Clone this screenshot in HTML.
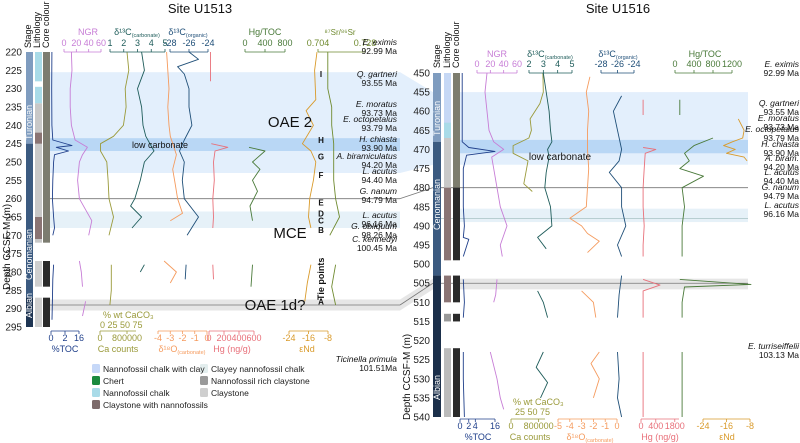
<!DOCTYPE html>
<html><head><meta charset="utf-8"><style>
html,body{margin:0;padding:0;background:#fff}
svg{display:block;font-family:"Liberation Sans",sans-serif}
</style></head><body>
<svg id="fig" width="800" height="443" viewBox="0 0 800 443">
<g id="bands"></g>
<g id="cols"></g>
<g id="series"></g>
<g id="axes"></g>
<g id="labels"></g>
</svg>
<script>
// ---- Left panel (Site U1513) data ----
const L_toc_d=[220,230,240,244,245.5,246,247,248,250,255,260,265,268,270,NaN,278,282,288,293];
const L_toc_v=[0.5,0.4,0.5,1,12,3,10,2,1.5,1,0.8,1.5,2,1,NaN,1.5,1,0.8,0.6];
const L_ngr_d=[220,225,230,235,240,244,246,248,250,255,260,263,266,270,NaN,277,280,284,NaN,288,292];
const L_ngr_v=[12,13,10,10,12,18,38,30,25,22,25,35,45,40,NaN,25,28,30,NaN,35,30];
const L_ca_d=[220,225,230,235,240,243,245,247,250,255,260,265,270,NaN,278,285,289];
const L_ca_v=[600000,640000,560000,580000,520000,300000,10000,10000,150000,180000,200000,300000,200000,NaN,250000,250000,220000];
const L_c13_d=[220,225,230,235,240,243,247,250,255,260,262,265,268,NaN,278,280];
const L_c13_v=[3.3,3.5,3,3.3,3.4,3.6,4.2,3.5,3.2,2.8,2.5,3.3,2.6,NaN,3.5,3.2];
const L_org_d=[220,222,224,226,230,235,240,244,247,250,255,260,265,270,NaN,278,282];
const L_org_v=[-26,-25,-27.2,-26.5,-26,-26,-25.7,-26.5,-27,-26.5,-26.7,-26.5,-25,-26.2,NaN,-26.3,-26.4];
const L_o18_d=[220,225,230,235,240,243,248,252,256,260,264,266,NaN,277,280,283];
const L_o18_v=[-3.3,-3.2,-3.1,-3.2,-3.1,-3,-2.5,-2.8,-2.6,-2.4,-2,-3,NaN,-3.5,-2.5,-3];
const L_hg_d=[220,228,NaN,245,246,247,250,255,260,265,268,NaN,278,282];
const L_hg_v=[20,20,NaN,30,250,80,60,70,50,60,50,NaN,50,60];
const L_hgt_d=[246,247,250,252,255,258,262,266,NaN,278,284];
const L_hgt_v=[80,400,150,300,150,250,100,150,NaN,150,120];
const L_nd_d=[220,225,233,236,240,245,247,250,255,260,265,268,NaN,278,283,288];
const L_nd_v=[-12.5,-13.5,-13,-17,-14,-18.5,-15,-13,-14,-15.5,-16,-15,NaN,-15,-16.5,-17.5];
const L_sr_d=[220,230,235,240,245,250,255,260,265,270,NaN,278,284,289];
const L_sr_v=[0.709,0.709,0.711,0.711,0.712,0.712,0.712,0.713,0.715,0.710,NaN,0.713,0.711,0.713];
// ---- Right panel (Site U1516) data ----
const R_toc_d=[450,460,468,469.5,470.5,471.5,475,480,485,490,493,493.5,498,NaN,504,510,514,NaN,523,530,540];
const R_toc_v=[1,1,1,4,16,3,1.5,1.5,1.5,2,1.5,4,1.5,NaN,1.5,2,1.5,NaN,1.5,1.5,2];
const R_ngr_d=[450,455,460,465,468,470,472,475,480,485,490,495,498,NaN,504,508,510,NaN,523,530,535,538];
const R_ngr_v=[15,12,15,18,25,40,22,25,30,35,45,35,38,NaN,30,28,25,NaN,20,30,35,40];
const R_ca_d=[450,455,458,462,465,467,469,471,473,476,479,481];
const R_ca_v=[750000,760000,680000,450000,480000,420000,50000,50000,400000,350000,300000,500000];
const R_c13_d=[450,455,460,465,468,470,472,476,480,485,490,493,496,NaN,507,510,514,NaN,523,527,531,535];
const R_c13_v=[3,3.2,3.4,3.5,3.6,3.3,3.4,3.2,3.1,3.5,3.6,2.6,3.2,NaN,2.6,3.0,3.3,NaN,3.0,2.5,3.3,2.8];
const R_o18_d=[451,455,460,465,470,475,480,485,488,490,492,494,497,NaN,507,510,514,NaN,523,526,530,535];
const R_o18_v=[-2.3,-2.6,-2.4,-2.5,-2.5,-2.4,-2.5,-2.6,-4,-3,-2.5,-1.5,-2.5,NaN,-3,-2,-1.8,NaN,-1.5,-2.2,-1.5,-2];
const R_org_d=[456,460,465,470,473,476,480,485,490,495,498,NaN,503,508,514,NaN,523,530,535,540];
const R_org_v=[-25.5,-26.5,-26,-25.5,-25.8,-27,-25.5,-25.5,-25,-26,-25.5,NaN,-25.5,-25.8,-26,NaN,-26,-25.8,-26,-25.5];
const R_hg_d=[457,461,NaN,469.5,470,471,475,480,485,490,495,498,NaN,504,505.5,507,510,514,NaN,523,530,540];
const R_hg_v=[100,100,NaN,100,700,200,150,100,100,150,100,100,NaN,100,900,100,100,100,NaN,100,100,100];
const R_hgt_d=[457,461,NaN,467,469,471,473,475,477,480,485,490,495,498,NaN,504,505.3,506,510,514,NaN,523,530,540];
const R_hgt_v=[100,100,NaN,800,400,200,300,100,600,150,200,150,150,150,NaN,100,1600,200,150,150,NaN,150,150,150];
const R_nd_d=[462,465,467,468,469,470,471,472,473];
const R_nd_v=[-12,-10,-10.5,-14,-17,-13,-16,-10,-9];
// tick labels
const L_depthTicks=[220,225,230,235,240,245,250,255,260,265,270,275,280,285,290,295];
const R_depthTicks=[450,455,460,465,470,475,480,485,490,495,500,505,510,515,520,525,530,535,540];

const NS="http://www.w3.org/2000/svg";
function el(parent,tag,attrs,text){const e=document.createElementNS(NS,tag);for(const k in attrs)e.setAttribute(k,attrs[k]);if(text!==undefined)e.textContent=text;parent.appendChild(e);return e;}
const lin=(d0,d1,r0,r1)=>v=>r0+(v-d0)/(d1-d0)*(r1-r0);
const yL=lin(220,295,52,327), yR=lin(450,540,73,417);
const G={bands:document.getElementById('bands'),cols:document.getElementById('cols'),series:document.getElementById('series'),axes:document.getElementById('axes'),labels:document.getElementById('labels')};

function band(x0,x1,y0,y1,fill,name){const r=el(G.bands,'rect',{x:x0,y:y0,width:x1-x0,height:y1-y0,fill:fill});

}
function poly(pts,fill,name){const p=el(G.bands,'polygon',{points:pts,fill:fill});

}
band(50,400,yL(225.5),yL(253),'#e3effc','oae2-band-left');
band(50,400,yL(243.5),yL(247),'#b9d7f5','low-carbonate-band-left');
band(50,400,yL(263.5),yL(268),'#e6f1f8','mce-band-left');
band(50,400,yL(287.5),yL(290.5),'#e6e6e6','oae1d-band-left');
band(460,748,yR(455),yR(474),'#e3effc','oae2-band-right');
band(460,748,yR(467.5),yR(471),'#b9d7f5','low-carbonate-band-right');
band(460,748,yR(485.5),yR(489),'#e6f1f8','mce-band-right');
band(460,748,yR(503.8),yR(506.6),'#e6e6e6','oae1d-band-right');
poly(`400,${yL(225.5)} 433,${yR(455)} 433,${yR(474)} 400,${yL(253)}`,'#e3effc','oae2-connector');
poly(`400,${yL(287.5)} 433,${yR(503.8)} 433,${yR(506.6)} 400,${yL(290.5)}`,'#e6e6e6','oae1d-connector');
el(G.bands,'line',{x1:50,x2:400,y1:yL(260),y2:yL(260),stroke:'#777','stroke-width':0.8});
el(G.bands,'line',{x1:50,x2:400,y1:yL(289),y2:yL(289),stroke:'#777','stroke-width':0.8});
el(G.bands,'line',{x1:400,x2:433,y1:yL(289),y2:yR(505),stroke:'#777','stroke-width':0.8});
el(G.bands,'line',{x1:400,x2:433,y1:yL(260),y2:yR(480),stroke:'#777','stroke-width':0.8});
el(G.bands,'line',{x1:433,x2:748,y1:yR(480),y2:yR(480),stroke:'#777','stroke-width':0.8});
el(G.bands,'line',{x1:433,x2:748,y1:yR(505),y2:yR(505),stroke:'#777','stroke-width':0.8});
el(G.bands,'line',{x1:433,x2:748,y1:yR(488),y2:yR(488),stroke:'#8aa','stroke-width':0.6});

function col(g,x,w,y0,y1,fill,name){const r=el(g,'rect',{x:x,y:y0,width:w,height:y1-y0,fill:fill});

}
col(G.cols,26,7,yL(220),yL(245),'#7f9cbf','stage-turonian-left');
col(G.cols,26,7,yL(245),yL(287),'#3b5a80','stage-cenomanian-left');
col(G.cols,26,7,yL(287),yL(295),'#1e3452','stage-albian-left');
col(G.cols,35,7,yL(220),yL(228),'#a9dbe8','litho-left-1');
col(G.cols,35,7,yL(229.5),yL(234),'#a9dbe8','litho-left-2');
col(G.cols,35,7,yL(234),yL(272),'#c8c8c8','litho-left-3');
col(G.cols,35,7,yL(242),yL(245),'#8a7474','litho-left-4');
col(G.cols,35,7,yL(265),yL(271),'#8a7474','litho-left-4b');
col(G.cols,35,7,yL(277),yL(284),'#cfcfcf','litho-left-5');
col(G.cols,35,7,yL(287),yL(295),'#cfcfcf','litho-left-6');
col(G.cols,43,7,yL(220),yL(272),'#7c7c70','core-left-1');
col(G.cols,43,7,yL(277),yL(284),'#2a2a2a','core-left-2');
col(G.cols,43,7,yL(287),yL(295),'#2a2a2a','core-left-3');
col(G.cols,433,8,yR(450),yR(468),'#7f9cbf','stage-turonian-right');
col(G.cols,433,8,yR(468),yR(503),'#3b5a80','stage-cenomanian-right');
col(G.cols,433,8,yR(503),yR(540),'#1b2f4a','stage-albian-right');
col(G.cols,444,7,yR(450),yR(467),'#c6d8f5','litho-right-1');
col(G.cols,444,7,yR(463),yR(467),'#a9dbe8','litho-right-2');
col(G.cols,444,7,yR(467),yR(499),'#c9c9c9','litho-right-3');
col(G.cols,444,7,yR(480),yR(499),'#8a7474','litho-right-4');
col(G.cols,444,7,yR(503),yR(510),'#8a7474','litho-right-5');
col(G.cols,444,7,yR(513),yR(515),'#999','litho-right-6');
col(G.cols,444,7,yR(522),yR(540),'#bbb','litho-right-7');
col(G.cols,453,7,yR(450),yR(480),'#7d7d6e','core-right-1');
col(G.cols,453,7,yR(480),yR(499),'#2a2a2a','core-right-2');
col(G.cols,453,7,yR(503),yR(510),'#2a2a2a','core-right-3');
col(G.cols,453,7,yR(513),yR(515),'#2a2a2a','core-right-4');
col(G.cols,453,7,yR(522),yR(540),'#2a2a2a','core-right-5');

function series(ds,vs,xs,ys,color,name,w){let d='',pen=false;
for(let i=0;i<ds.length;i++){if(isNaN(ds[i])||isNaN(vs[i])){pen=false;continue;}
d+=(pen?'L':'M')+xs(vs[i]).toFixed(1)+','+ys(ds[i]).toFixed(1);pen=true;}
const p=el(G.series,'path',{d:d,fill:'none',stroke:color,'stroke-width':w||0.9,'stroke-linejoin':'round'});

}
const C={toc:'#1f3f8a',ngr:'#c77dd6',ca:'#9a9a3a',c13:'#1e5c5a',org:'#1f4f78',o18:'#f59b5e',hg:'#e8707a',hgt:'#4a7a3a',nd:'#d99a2a',sr:'#6f8a2f'};
const LS={toc:lin(0,16,51,79),ngr:lin(0,60,64,101),ca:lin(0,800000,100,136),c13:lin(1,5,110,165),org:lin(-28,-24,170,208),o18:lin(-4,0,158,207),hg:lin(0,600,209,254),hgt:lin(0,800,245,285),nd:lin(-24,-8,289,328),sr:lin(0.704,0.728,318,365)};
const RS={toc:lin(0,16,460,495),ngr:lin(0,60,477,517),ca:lin(0,800000,511,545),c13:lin(2,5,529,572),org:lin(-28,-24,601,634),o18:lin(-5,0,558,617),hg:lin(0,1800,641,679),hgt:lin(0,1200,675,732),nd:lin(-24,-8,703,750)};
series(L_toc_d,L_toc_v,LS.toc,yL,C.toc,'toc-line-u1513');
series(L_ngr_d,L_ngr_v,LS.ngr,yL,C.ngr,'ngr-line-u1513');
series(L_ca_d,L_ca_v,LS.ca,yL,C.ca,'ca-counts-line-u1513');
series(L_c13_d,L_c13_v,LS.c13,yL,C.c13,'d13c-carbonate-line-u1513');
series(L_org_d,L_org_v,LS.org,yL,C.org,'d13c-organic-line-u1513');
series(L_o18_d,L_o18_v,LS.o18,yL,C.o18,'d18o-line-u1513');
series(L_hg_d,L_hg_v,LS.hg,yL,C.hg,'hg-line-u1513');
series(L_hgt_d,L_hgt_v,LS.hgt,yL,C.hgt,'hg-toc-line-u1513');
series(L_nd_d,L_nd_v,LS.nd,yL,C.nd,'end-line-u1513');
series(L_sr_d,L_sr_v,LS.sr,yL,C.sr,'sr-line-u1513');
series(R_toc_d,R_toc_v,RS.toc,yR,C.toc,'toc-line-u1516');
series(R_ngr_d,R_ngr_v,RS.ngr,yR,C.ngr,'ngr-line-u1516');
series(R_ca_d,R_ca_v,RS.ca,yR,C.ca,'ca-counts-line-u1516');
series(R_c13_d,R_c13_v,RS.c13,yR,C.c13,'d13c-carbonate-line-u1516');
series(R_o18_d,R_o18_v,RS.o18,yR,C.o18,'d18o-line-u1516');
series(R_org_d,R_org_v,RS.org,yR,C.org,'d13c-organic-line-u1516');
series(R_hg_d,R_hg_v,RS.hg,yR,C.hg,'hg-line-u1516');
series(R_hgt_d,R_hgt_v,RS.hgt,yR,C.hgt,'hg-toc-line-u1516');
series(R_nd_d,R_nd_v,RS.nd,yR,C.nd,'end-line-u1516');

function haxis(x0,x1,y,ticks,xs,color,name,top){const g=el(G.axes,'g',{});


el(g,'line',{x1:x0,x2:x1,y1:y,y2:y,stroke:color,'stroke-width':0.8});
ticks.forEach(t=>{const x=xs(t[0]);el(g,'line',{x1:x,x2:x,y1:y,y2:y+(top?-3:3),stroke:color,'stroke-width':0.8});
el(g,'text',{x:x,y:top?y-6:y+10,'font-size':9,fill:color,'text-anchor':'middle'},t[1]);});}
function t(arr){return arr.map(v=>[v,String(v)]);}
haxis(64,101,52,t([0,20,40,60]),LS.ngr,C.ngr,'ngr-axis-u1513',true);
haxis(110,165,52,t([1,2,3,4,5]),LS.c13,C.c13,'d13c-carb-axis-u1513',true);
haxis(170,208,52,t([-28,-26,-24]),LS.org,C.org,'d13c-org-axis-u1513',true);
haxis(245,285,52,t([0,400,800]),LS.hgt,C.hgt,'hg-toc-axis-u1513',true);
haxis(318,365,52,[[0.704,'0.704'],[0.728,'0.728']],LS.sr,C.sr,'sr-axis-u1513',true);
haxis(51,79,331,[[0,'0'],[8,'2'],[16,'16']],LS.toc,C.toc,'toc-axis-u1513',false);
haxis(100,136,331,[[0,'0'],[600000,'800000']],LS.ca,C.ca,'ca-axis-u1513',false);
haxis(158,207,331,t([-4,-3,-2,-1,0]),LS.o18,C.o18,'d18o-axis-u1513',false);
haxis(209,254,331,t([0,200,400,600]),LS.hg,C.hg,'hg-axis-u1513',false);
haxis(289,328,331,t([-24,-16,-8]),LS.nd,C.nd,'end-axis-u1513',false);
haxis(477,517,73,t([0,20,40,60]),RS.ngr,C.ngr,'ngr-axis-u1516',true);
haxis(529,572,73,t([2,3,4,5]),RS.c13,C.c13,'d13c-carb-axis-u1516',true);
haxis(601,634,73,t([-28,-26,-24]),RS.org,C.org,'d13c-org-axis-u1516',true);
haxis(675,732,73,t([0,400,800,1200]),RS.hgt,C.hgt,'hg-toc-axis-u1516',true);
haxis(460,495,419,[[0,'0'],[4,'2'],[7,'4'],[16,'16']],RS.toc,C.toc,'toc-axis-u1516',false);
haxis(511,545,419,[[0,'0'],[650000,'800000']],RS.ca,C.ca,'ca-axis-u1516',false);
haxis(558,617,419,t([-5,-4,-3,-2,-1,0]),RS.o18,C.o18,'d18o-axis-u1516',false);
haxis(641,679,419,[[0,'0'],[700,'400'],[1600,'1800']],RS.hg,C.hg,'hg-axis-u1516',false);
haxis(703,750,419,t([-24,-16,-8]),RS.nd,C.nd,'end-axis-u1516',false);

L_depthTicks.forEach(d=>el(G.axes,'text',{x:22,y:yL(d)+3.5,'font-size':10,'text-anchor':'end',fill:'#222'},d));
R_depthTicks.forEach(d=>el(G.axes,'text',{x:430,y:yR(d)+3.5,'font-size':10,'text-anchor':'end',fill:'#222'},d));

function tx(x,y,s,str,opt){const o=Object.assign({x:x,y:y,'font-size':s,fill:'#111'},opt||{});return el(G.labels,'text',o,str);}
function sub(x,y,main,subs,color,anchor){const e=el(G.labels,'text',{x:x,y:y,'font-size':9,fill:color,'text-anchor':anchor||'middle'});
el(e,'tspan',{},main);el(e,'tspan',{'font-size':5.5,dy:2},subs);return e;}
tx(200,13,13,'Site U1513',{'text-anchor':'middle'});
tx(618,13,13,'Site U1516',{'text-anchor':'middle'});
[['Stage',31],['Lithology',40],['Core colour',49]].forEach(a=>tx(a[1],48,9,a[0],{transform:`rotate(-90 ${a[1]} 48)`}));
[['Stage',440],['Lithology',450],['Core colour',459]].forEach(a=>tx(a[1],68,9,a[0],{transform:`rotate(-90 ${a[1]} 68)`}));
tx(10,290,10,'Depth CCSF-M (m)',{transform:'rotate(-90 10 290)'});
tx(410,420,10,'Depth CCSF-M (m)',{transform:'rotate(-90 410 420)'});
tx(32,140,9,'Turonian',{transform:'rotate(-90 32 140)',fill:'#fff'});
tx(32,280,9,'Cenomanian',{transform:'rotate(-90 32 280)',fill:'#fff'});
tx(32,318,9,'Albian',{transform:'rotate(-90 32 318)',fill:'#fff'});
tx(440,136,9,'Turonian',{transform:'rotate(-90 440 136)',fill:'#fff'});
tx(440,230,9,'Cenomanian',{transform:'rotate(-90 440 230)',fill:'#fff'});
tx(440,400,9,'Albian',{transform:'rotate(-90 440 400)',fill:'#fff'});
tx(88,35,9,'NGR',{fill:C.ngr,'text-anchor':'middle'});
sub(137,35,'δ¹³C','(carbonate)',C.c13);
sub(188,35,'δ¹³C','(organic)',C.org);
tx(265,35,9,'Hg/TOC',{fill:C.hgt,'text-anchor':'middle'});
tx(340,35,8,'⁸⁷Sr/⁸⁶Sr',{fill:C.sr,'text-anchor':'middle'});
tx(65,352,9,'%TOC',{fill:C.toc,'text-anchor':'middle'});
tx(118,352,9,'Ca counts',{fill:C.ca,'text-anchor':'middle'});
sub(182,352,'δ¹⁸O','(carbonate)',C.o18);
tx(232,352,9,'Hg (ng/g)',{fill:C.hg,'text-anchor':'middle'});
tx(307,352,9,'εNd',{fill:C.nd,'text-anchor':'middle'});
tx(103,318,9,'% wt CaCO₃',{fill:C.ca});
tx(100,328,9,'0  25 50 75',{fill:C.ca});
tx(497,57,9,'NGR',{fill:C.ngr,'text-anchor':'middle'});
sub(550,57,'δ¹³C','(carbonate)',C.c13);
sub(618,57,'δ¹³C','(organic)',C.org);
tx(705,57,9,'Hg/TOC',{fill:C.hgt,'text-anchor':'middle'});
tx(478,440,9,'%TOC',{fill:C.toc,'text-anchor':'middle'});
tx(530,440,9,'Ca counts',{fill:C.ca,'text-anchor':'middle'});
sub(590,440,'δ¹⁸O','(carbonate)',C.o18);
tx(660,440,9,'Hg (ng/g)',{fill:C.hg,'text-anchor':'middle'});
tx(727,440,9,'εNd',{fill:C.nd,'text-anchor':'middle'});
tx(513,405,9,'% wt CaCO₃',{fill:C.ca});
tx(515,415,9,'25 50 75',{fill:C.ca});
tx(290,127,15,'OAE 2',{'text-anchor':'middle'});
tx(290,238,15,'MCE',{'text-anchor':'middle'});
tx(275,310,15,'OAE 1d?',{'text-anchor':'middle'});
tx(160,148,9,'low carbonate',{'text-anchor':'middle'});
tx(560,160,10,'low carbonate',{'text-anchor':'middle'});
[['I',226],['H',244],['G',248.5],['F',253.5],['E',261],['D',264],['C',266],['B',268.5],['A',288]].forEach(a=>tx(321,yL(a[1])+3,8,a[0],{'text-anchor':'middle','font-weight':'bold'}));
tx(324,300,9,'Tie points',{transform:'rotate(-90 324 300)','font-weight':'bold'});
// biostratigraphic labels (pixel label positions)
[['E. eximis','92.99 Ma',45],['Q. gartneri','93.55 Ma',77],['E. moratus','93.73 Ma',107],['E. octopetalus','93.79 Ma',122],['H. chiasta','93.90 Ma',142],['A. biramiculatus','94.20 Ma',159],['L. acutus','94.40 Ma',174],['G. nanum','94.79 Ma',194],['L. acutus','96.16 Ma',218],['G. obliquum','98.26 Ma',229],['C. kennedyi','100.45 Ma',242],['Ticinella primula','101.51Ma',362]].forEach(a=>{tx(397,a[2],8.5,a[0],{'text-anchor':'end','font-style':'italic'});tx(397,a[2]+9,8.5,a[1],{'text-anchor':'end'});});
[['E. eximis','92.99 Ma',67],['Q. gartneri','93.55 Ma',106],['E. moratus','93.73 Ma',121],['E. octopetalus','93.79 Ma',132],['H. chiasta','93.90 Ma',147],['A. biram.','94.20 Ma',161],['L. acutus','94.40 Ma',175],['G. nanum','94.79 Ma',190],['L. acutus','96.16 Ma',208],['E. turriseiffelii','103.13 Ma',349]].forEach(a=>{tx(799,a[2],8.5,a[0],{'text-anchor':'end','font-style':'italic'});tx(799,a[2]+9,8.5,a[1],{'text-anchor':'end'});});
const legend=el(G.labels,'g',{});


[['Nannofossil chalk with clay','#c6d8f8',92,372],['Chert','#1a8a3e',92,384],['Nannofossil chalk','#a9dbe8',92,396],['Claystone with nannofossils','#7d6b6b',92,408],['Clayey nannofossil chalk','#e3eeee',200,372],['Nannofossil rich claystone','#9a9a9a',200,384],['Claystone','#cfcfcf',200,396]].forEach(a=>{el(legend,'rect',{x:a[2],y:a[3]-8,width:8,height:9,rx:1.5,fill:a[1]});
tx(a[2]+11,a[3],8.5,a[0],{fill:'#222'});});
</script>
</body></html>
